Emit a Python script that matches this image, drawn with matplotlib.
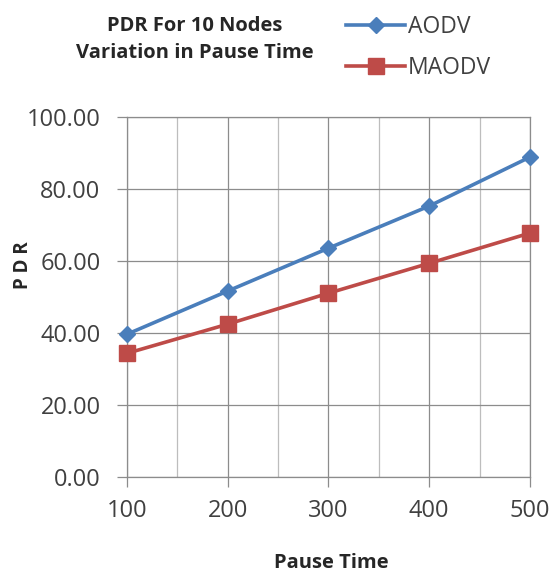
import matplotlib
matplotlib.use('Agg')
import matplotlib.pyplot as plt
from matplotlib.ticker import MultipleLocator, FormatStrFormatter

# data
pause_time = [100, 200, 300, 400, 500]
aodv = [39.7, 51.7, 63.6, 75.3, 88.9]
maodv = [34.4, 42.5, 51.1, 59.4, 67.8]

title_text = 'PDR For 10 Nodes\nVariation in Pause Time'
x_label = 'Pause Time'
y_label = 'P D R'

plt.rcParams['font.family'] = ['Open Sans', 'DejaVu Sans']

fig = plt.figure(figsize=(5.52, 5.77), dpi=100)
ax = fig.add_axes([0.230, 0.173, 0.730, 0.624])

blue = '#4A7EBB'
red = '#BE4B48'

ax.plot(pause_time, aodv, color=blue, lw=2.6, marker='D', markersize=8,
        label='AODV', clip_on=False, zorder=4)
ax.plot(pause_time, maodv, color=red, lw=2.6, marker='s', markersize=11,
        label='MAODV', clip_on=False, zorder=4)

ax.set_xlim(100, 500)
ax.set_ylim(0, 100)
ax.xaxis.set_major_locator(MultipleLocator(100))
ax.xaxis.set_minor_locator(MultipleLocator(50))
ax.yaxis.set_major_locator(MultipleLocator(20))
ax.yaxis.set_major_formatter(FormatStrFormatter('%.2f'))

ax.grid(which='major', color='#8c8c8c', lw=0.9)
ax.grid(which='minor', axis='x', color='#bdbdbd', lw=0.9)
ax.set_axisbelow(True)
for s in ax.spines.values():
    s.set_color('#8c8c8c')
    s.set_linewidth(0.9)

ax.tick_params(which='major', length=7, width=0.9, color='#8c8c8c',
               labelsize=17, labelcolor='#404040')
ax.tick_params(which='minor', length=0)
ax.tick_params(axis='y', pad=12)
ax.tick_params(axis='x', pad=9)

fig.text(0.353, 0.932, title_text, ha='center', va='center',
         fontsize=14.5, fontweight='bold', color='#262626', linespacing=1.45)
fig.text(0.60, 0.025, x_label, ha='center', va='center', fontsize=14.5,
         fontweight='bold', color='#262626')
fig.text(0.042, 0.54, y_label, ha='center', va='center', rotation=90,
         fontsize=13.5, fontweight='bold', color='#262626')

leg = fig.legend(loc='upper left', bbox_to_anchor=(0.589, 1.01), frameon=False,
                 fontsize=16.5, handlelength=2.6, handletextpad=0.1,
                 labelspacing=0.75, labelcolor='#404040')

fig.savefig('out.png', dpi=100)
